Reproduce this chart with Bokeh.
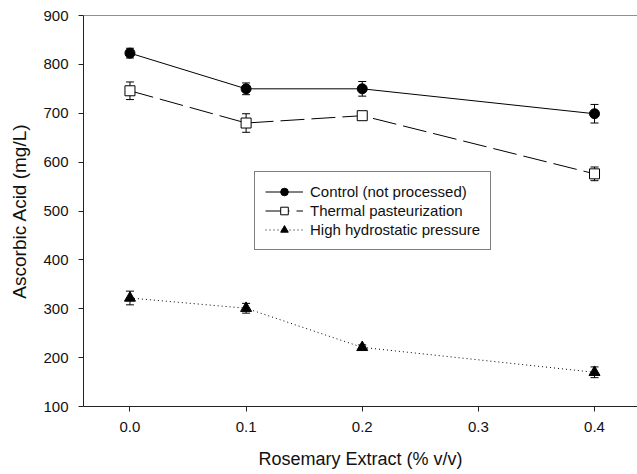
from bokeh.plotting import figure
from bokeh.models import (ColumnDataSource, Range1d, FixedTicker, NumeralTickFormatter,
                          Whisker, TeeHead, Legend, LegendItem, Span)
from bokeh.embed import file_html
from bokeh.resources import INLINE

# ---- data ----
extract = [0.0, 0.1, 0.2, 0.4]
control = [823, 750, 750, 699]
control_err = [10, 12, 15, 19]
thermal = [746, 680, 695, 576]
thermal_err = [18, 19, 5, 14]
hhp = [322, 301, 221, 170]
hhp_err = [14, 10, 5, 11]
x_ticks = [0.0, 0.1, 0.2, 0.3, 0.4]
y_ticks = [100, 200, 300, 400, 500, 600, 700, 800, 900]
labels = ["Control (not processed)", "Thermal pasteurization", "High hydrostatic pressure"]

FONT = "Liberation Sans"

p = figure(width=637, height=474, output_backend="svg", toolbar_location=None,
           x_range=Range1d(-0.04, 0.437), y_range=Range1d(100, 900),
           min_border_left=83, min_border_right=0, min_border_top=15, min_border_bottom=68)
p.outline_line_color = None
p.xgrid.visible = False
p.ygrid.visible = False
p.background_fill_color = "white"

# top frame line
p.add_layout(Span(location=900, dimension="width", line_color="#222222", line_width=1))

def src(vals, errs):
    return ColumnDataSource(dict(x=extract, y=vals,
                                 upper=[v + e for v, e in zip(vals, errs)],
                                 lower=[v - e for v, e in zip(vals, errs)]))

s_c = src(control, control_err)
s_t = src(thermal, thermal_err)
s_h = src(hhp, hhp_err)

for s in (s_c, s_t, s_h):
    w = Whisker(source=s, base="x", upper="upper", lower="lower",
                line_color="black", line_width=1,
                upper_head=TeeHead(size=8, line_color="black", line_width=1),
                lower_head=TeeHead(size=8, line_color="black", line_width=1))
    p.add_layout(w)

l_c = p.line("x", "y", source=s_c, line_color="black", line_width=1)
m_c = p.scatter("x", "y", source=s_c, marker="circle", size=10,
                fill_color="black", line_color="black")
l_t = p.line("x", "y", source=s_t, line_color="black", line_width=1, line_dash="24 7")
m_t = p.scatter("x", "y", source=s_t, marker="square", size=10,
                fill_color="white", line_color="black", line_width=1)
l_h = p.line("x", "y", source=s_h, line_color="black", line_width=1, line_dash="1 3")
m_h = p.scatter("x", "y", source=s_h, marker="triangle", size=11,
                fill_color="black", line_color="black")

legend = Legend(items=[LegendItem(label=labels[0], renderers=[l_c, m_c]),
                       LegendItem(label=labels[1], renderers=[l_t, m_t]),
                       LegendItem(label=labels[2], renderers=[l_h, m_h])],
                location=(171, 156), padding=10, spacing=0, margin=0,
                glyph_width=38, glyph_height=19, label_height=19, label_standoff=7,
                label_text_font=FONT, label_text_font_size="15px", label_text_color="#111111",
                border_line_color="black", border_line_width=1,
                background_fill_color="white", background_fill_alpha=1)
p.add_layout(legend, "center")

# axes
for ax in (p.xaxis[0], p.yaxis[0]):
    ax.axis_line_color = "#222222"
    ax.major_tick_line_color = "#222222"
    ax.major_tick_out = 5
    ax.major_tick_in = 0
    ax.minor_tick_line_color = None
    ax.major_label_text_font = FONT
    ax.major_label_text_font_size = "15px"
    ax.major_label_text_color = "#111111"
    ax.major_label_standoff = 10
    ax.axis_label_text_font = FONT
    ax.axis_label_text_font_size = "18px"
    ax.axis_label_text_font_style = "normal"
    ax.axis_label_text_color = "#111111"

p.xaxis.ticker = FixedTicker(ticks=x_ticks)
p.xaxis.formatter = NumeralTickFormatter(format="0.0")
p.yaxis.ticker = FixedTicker(ticks=y_ticks)
p.xaxis.axis_label = "Rosemary Extract (% v/v)"
p.yaxis.axis_label = "Ascorbic Acid (mg/L)"
p.yaxis.axis_label_text_font_size = "19px"
p.xaxis.axis_label_standoff = 14
p.yaxis.axis_label_standoff = 10

open("out.html", "w").write(file_html(p, INLINE))
